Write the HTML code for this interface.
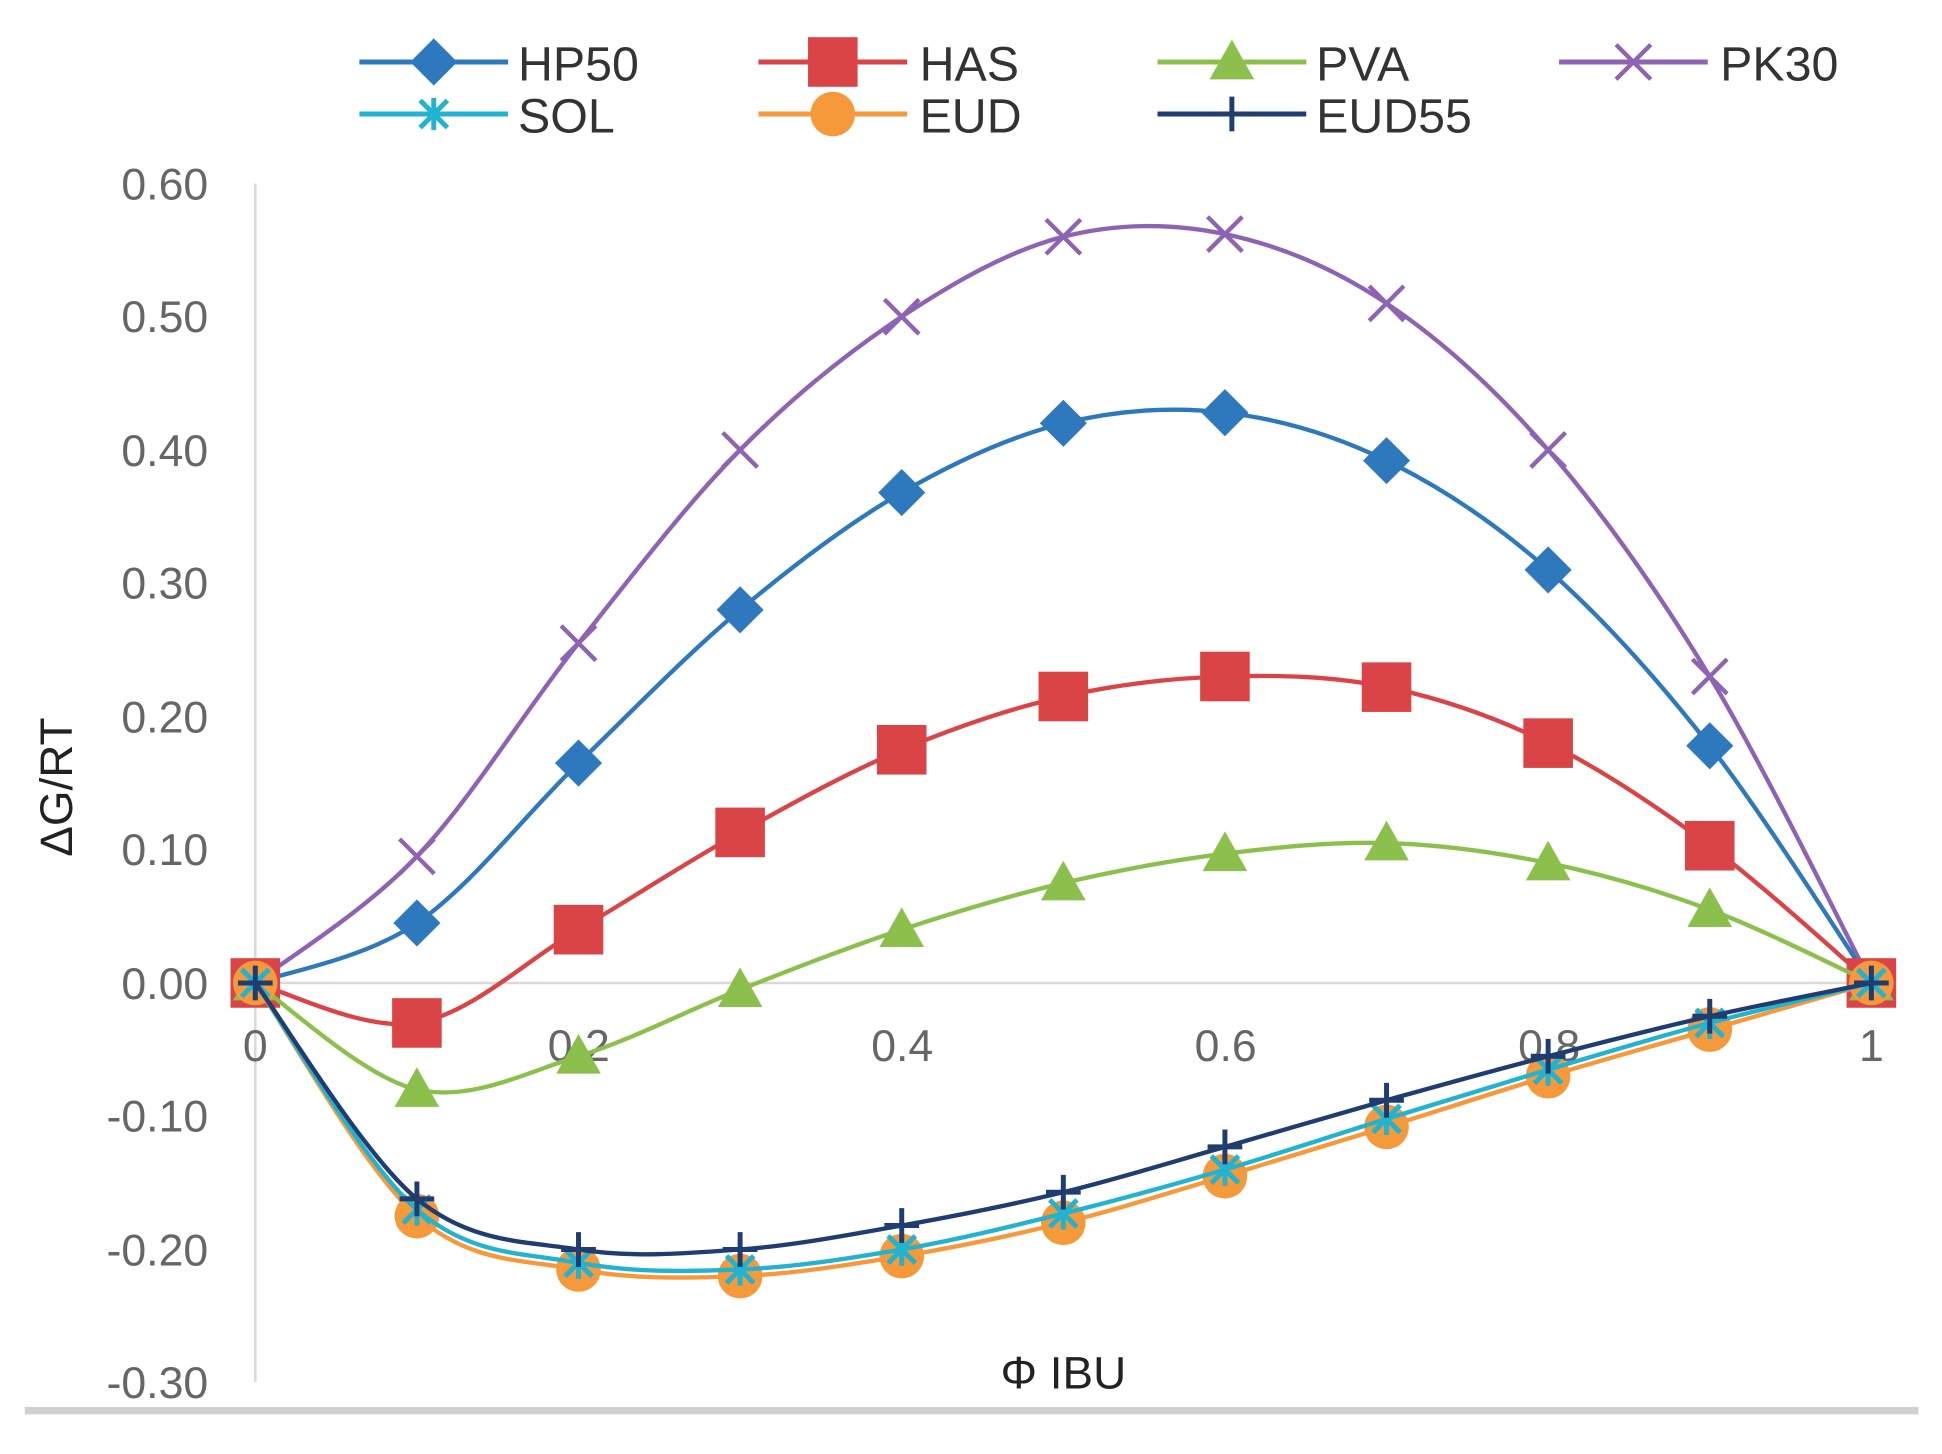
<!DOCTYPE html>
<html><head><meta charset="utf-8"><style>html,body{margin:0;padding:0;background:#fff}svg{display:block}</style></head>
<body>
<svg id="s" width="1942" height="1454" viewBox="0 0 1567 1173" preserveAspectRatio="none" xmlns="http://www.w3.org/2000/svg" font-family="Liberation Sans, sans-serif">
<rect width="1567" height="1173" fill="#fff"/>
<line x1="206" y1="148" x2="206" y2="1115" stroke="#d9d9d9" stroke-width="2"/>
<line x1="206" y1="793" x2="1530" y2="793" stroke="#d9d9d9" stroke-width="2"/>
<rect x="20" y="1135" width="1528" height="6" fill="#d0d0d0"/>
<g fill="#666" font-size="36" text-anchor="end">
<text x="168" y="161">0.60</text><text x="168" y="268">0.50</text><text x="168" y="376">0.40</text>
<text x="168" y="483">0.30</text><text x="168" y="591">0.20</text><text x="168" y="698">0.10</text>
<text x="168" y="806">0.00</text><text x="168" y="913">-0.10</text><text x="168" y="1021">-0.20</text>
<text x="168" y="1128">-0.30</text>
</g>
<g fill="#666" font-size="36" text-anchor="middle">
<text x="206" y="856">0</text><text x="467" y="856">0.2</text><text x="728" y="856">0.4</text>
<text x="989" y="856">0.6</text><text x="1250" y="856">0.8</text><text x="1510" y="856">1</text>
</g>
<text x="0" y="0" transform="translate(58,635) rotate(-90)" text-anchor="middle" font-size="37" fill="#222">ΔG/RT</text>
<text x="858" y="1120" text-anchor="middle" font-size="37" fill="#222">Φ IBU</text>
<g id="plot"></g>
<g id="leg"></g>
<g font-size="39" fill="#333">
<text x="418" y="65">HP50</text><text x="742" y="65">HAS</text><text x="1062" y="65">PVA</text><text x="1388" y="65">PK30</text>
<text x="418" y="107">SOL</text><text x="742" y="107">EUD</text><text x="1062" y="107">EUD55</text>
</g>
</svg>
<script>
const X=v=>206+v*1304, Y=v=>793-v*1075;
const S=[
["PK30","#8e63b3","x",[0,0.095,0.255,0.40,0.50,0.56,0.562,0.51,0.40,0.23,0]],
["HP50","#2e78bd","d",[0,0.045,0.165,0.28,0.368,0.42,0.428,0.392,0.31,0.178,0]],
["HAS","#db4446","s",[0,-0.03,0.04,0.113,0.175,0.215,0.23,0.222,0.18,0.103,0]],
["PVA","#8cc04c","t",[0,-0.08,-0.055,-0.005,0.04,0.075,0.097,0.105,0.09,0.055,0]],
["EUD","#f5993a","c",[0,-0.175,-0.215,-0.22,-0.205,-0.18,-0.145,-0.108,-0.07,-0.035,0]],
["SOL","#21b3cf","a",[0,-0.17,-0.21,-0.215,-0.2,-0.173,-0.14,-0.102,-0.065,-0.03,0]],
["EUD55","#1f3d70","p",[0,-0.162,-0.2,-0.2,-0.182,-0.157,-0.123,-0.088,-0.055,-0.025,0]]];
function mk(t,x,y,c){
 if(t=="d")return `<path d="M${x} ${y-19}L${x+19} ${y}L${x} ${y+19}L${x-19} ${y}Z" fill="${c}"/>`;
 if(t=="s")return `<rect x="${x-20}" y="${y-20}" width="40" height="40" fill="${c}"/>`;
 if(t=="t")return `<path d="M${x} ${y-18}L${x+18} ${y+14}L${x-18} ${y+14}Z" fill="${c}"/>`;
 if(t=="c")return `<circle cx="${x}" cy="${y}" r="18" fill="${c}"/>`;
 if(t=="x")return `<path d="M${x-14} ${y-14}L${x+14} ${y+14}M${x+14} ${y-14}L${x-14} ${y+14}" stroke="${c}" stroke-width="3.5"/>`;
 if(t=="a")return `<path d="M${x-11} ${y-11}L${x+11} ${y+11}M${x+11} ${y-11}L${x-11} ${y+11}M${x} ${y-13}V${y+13}" stroke="${c}" stroke-width="4"/>`;
 return `<path d="M${x-14} ${y}H${x+14}M${x} ${y-14}V${y+14}" stroke="${c}" stroke-width="4"/>`;
}
let h="";
for(const [n,c,t,d] of S){
 const P=d.map((v,i)=>[X(i/10),Y(v)]);
 let p=`M${P[0][0]} ${P[0][1]}`;
 for(let i=0;i<P.length-1;i++){
  const p0=P[Math.max(i-1,0)],p1=P[i],p2=P[i+1],p3=P[Math.min(i+2,P.length-1)];
  p+=`C${p1[0]+(p2[0]-p0[0])/6} ${p1[1]+(p2[1]-p0[1])/6} ${p2[0]-(p3[0]-p1[0])/6} ${p2[1]-(p3[1]-p1[1])/6} ${p2[0]} ${p2[1]}`;
 }
 h+=`<path d="${p}" fill="none" stroke="${c}" stroke-width="3.5"/>`;
 P.forEach(q=>h+=mk(t,q[0],q[1],c));
}
document.getElementById("plot").innerHTML=h;
const L=[["HP50",290,50],["HAS",612,50],["PVA",934,50],["PK30",1258,50],["SOL",290,92],["EUD",612,92],["EUD55",934,92]];
let g="";
for(const [n,x,y] of L){const s=S.find(a=>a[0]==n);
 g+=`<line x1="${x}" y1="${y}" x2="${x+120}" y2="${y}" stroke="${s[1]}" stroke-width="4"/>`+mk(s[2],x+60,y,s[1]);}
document.getElementById("leg").innerHTML=g;
</script>
</body></html>
